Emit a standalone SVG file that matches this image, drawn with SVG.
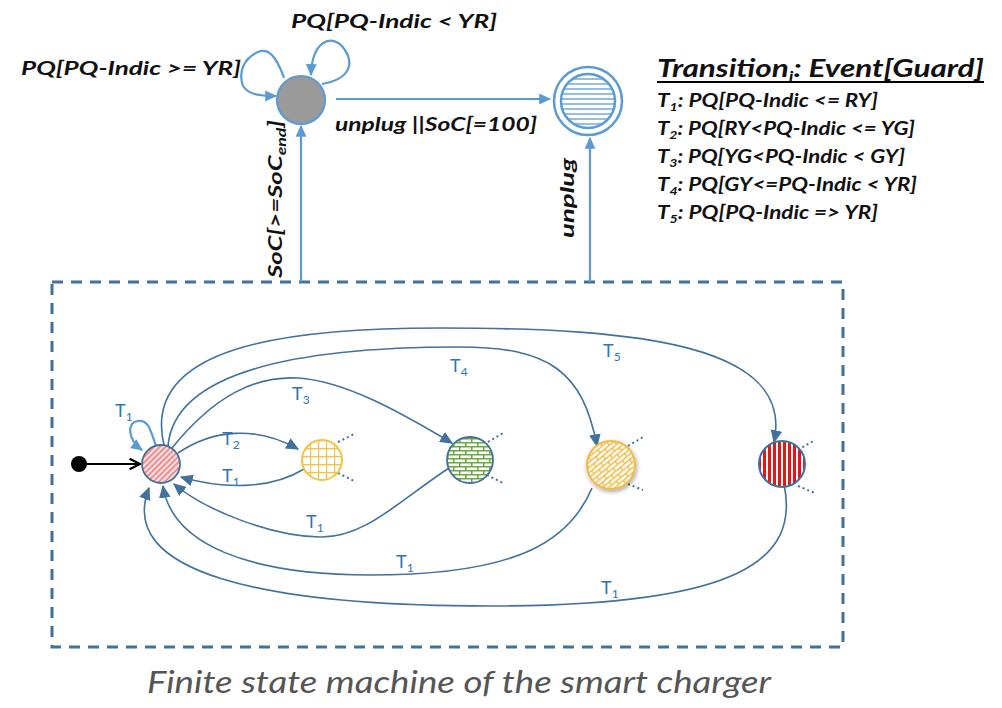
<svg xmlns="http://www.w3.org/2000/svg" width="1002" height="708" viewBox="0 0 1002 708">
<style>
.lbl{font-family:Lato,"Liberation Sans",sans-serif;font-weight:bold;font-style:italic;fill:#111;}
.t{font-family:Lato,"Open Sans","Liberation Sans",sans-serif;fill:#2e75b6;font-size:18px;}
.c{fill:none;stroke:#41719c;stroke-width:1.6;}
.top{fill:none;stroke:#5b9bd5;stroke-width:2.2;}
.dot{fill:none;stroke:#41719c;stroke-width:2;stroke-dasharray:2 3;}
</style>
<defs>
<marker id="ab" viewBox="0 0 10 10" refX="9" refY="5" markerWidth="13" markerHeight="13" markerUnits="userSpaceOnUse" orient="auto"><path d="M0,0.5 L10,5 L0,9.5 z" fill="#41719c"/></marker>
<marker id="al" viewBox="0 0 10 10" refX="9" refY="5" markerWidth="12" markerHeight="12" markerUnits="userSpaceOnUse" orient="auto"><path d="M0,0.5 L10,5 L0,9.5 z" fill="#5b9bd5"/></marker>
<marker id="ak" viewBox="0 0 10 10" refX="9" refY="5" markerWidth="13" markerHeight="13" markerUnits="userSpaceOnUse" orient="auto"><path d="M1,1 L9,5 L1,9" fill="none" stroke="#000" stroke-width="1.8"/></marker>
<pattern id="phatch" width="4" height="4" patternUnits="userSpaceOnUse" patternTransform="rotate(45)"><rect width="4" height="4" fill="#fbe2e2"/><line x1="1" y1="0" x2="1" y2="4" stroke="#e23a3a" stroke-width="1"/></pattern>
<pattern id="pgrid" width="8" height="8" patternUnits="userSpaceOnUse" x="302" y="440"><rect width="8" height="8" fill="#fff"/><path d="M0,0.5 H8 M0.5,0 V8" stroke="#f5c242" stroke-width="1.3"/></pattern>
<pattern id="pbrick" width="12" height="8" patternUnits="userSpaceOnUse" x="447" y="438"><rect width="12" height="8" fill="#fff"/><path d="M0,0.75 H12 M0,4.75 H12 M0.75,0 V4 M6.75,4 V8" stroke="#6aaa3e" stroke-width="1.6"/></pattern>
<pattern id="pgold" width="12" height="8" patternUnits="userSpaceOnUse" patternTransform="rotate(-40)"><rect width="12" height="8" fill="#fff"/><path d="M0,0.75 H12 M0,4.75 H12 M0.75,0 V4 M6.75,4 V8" stroke="#f1bb48" stroke-width="1.4"/></pattern>
<pattern id="pstripe" width="5" height="5" patternUnits="userSpaceOnUse" x="758"><rect width="5" height="5" fill="#e01818"/><rect x="3" width="2" height="5" fill="#fff"/></pattern>
<pattern id="phor" width="5" height="5" patternUnits="userSpaceOnUse" y="68"><rect width="5" height="5" fill="#fff"/><line x1="0" y1="1" x2="5" y2="1" stroke="#5b9bd5" stroke-width="1.3"/></pattern>
<filter id="sh" x="-40%" y="-40%" width="180%" height="180%"><feDropShadow dx="1" dy="2" stdDeviation="2" flood-color="#000" flood-opacity="0.35"/></filter>
</defs>
<rect width="1002" height="708" fill="#fff"/>

<g id="boundary">
<rect x="52" y="282" width="791" height="365" fill="none" stroke="#41719c" stroke-width="3" stroke-dasharray="11 8"/>
</g>

<g id="connectors">
<path class="top" d="M284,78 C276,55 268,48 258,52 C244,58 238,72 243,86 C248,94 258,96 276,96" marker-end="url(#al)"/>
<path class="top" d="M322,84 C346,80 358,66 342,46 C330,34 312,42 311,75" marker-end="url(#al)"/>
<line class="top" x1="336" y1="99" x2="550" y2="99" marker-end="url(#al)"/>
<line class="top" x1="301" y1="282" x2="301" y2="126" marker-end="url(#al)"/>
<line class="top" x1="590" y1="282" x2="590" y2="138" marker-end="url(#al)"/>
<line x1="87" y1="464" x2="140" y2="464" stroke="#000" stroke-width="1.8" marker-end="url(#ak)"/>
<path d="M156,446 C150,428 148,420 138,421 C126,422 128,440 142,450" fill="none" stroke="#5b9bd5" stroke-width="2.2" marker-end="url(#al)"/>
<path class="c" d="M178,453 C212,430 255,425 298,449" marker-end="url(#ab)"/>
<path class="c" d="M304,469 C270,490 222,489 181,477" marker-end="url(#ab)"/>
<path class="c" d="M172,448 C215,395 255,376 298,378 C345,381 400,412 452,443" marker-end="url(#ab)"/>
<path class="c" d="M168,446 C175,365 320,347 460,347 C550,347 583,372 597,446" marker-end="url(#ab)"/>
<path class="c" d="M164,445 C140,345 290,328 440,328 C640,328 795,345 774,442" marker-end="url(#ab)"/>
<path class="c" d="M449,468 C400,500 365,538 320,537 C270,536 205,510 174,484" marker-end="url(#ab)"/>
<path class="c" d="M592,488 C570,540 520,575 370,575 C250,575 172,545 163,486" marker-end="url(#ab)"/>
<path class="c" d="M784,484 C800,560 740,606 490,606 C260,606 116,572 149,488" marker-end="url(#ab)"/>
<path class="dot" d="M338,442 L356,433 M338,473 L356,482"/>
<path class="dot" d="M488,442 L503,433 M487,475 L503,483"/>
<path class="dot" d="M628,446 L643,437 M628,484 L643,490"/>
<path class="dot" d="M798,450 L815,440 M798,486 L815,493"/>
</g>

<g id="charging">
<circle cx="301" cy="100" r="24" fill="#9a9a9a" stroke="#5b9bd5" stroke-width="2.2"/>
</g>
<g id="final">
<circle cx="588" cy="101" r="34" fill="none" stroke="#5b9bd5" stroke-width="2.5"/>
<circle cx="588" cy="101" r="27" fill="url(#phor)" stroke="#5b9bd5" stroke-width="2.5"/>
</g>
<g id="initial"><circle cx="79" cy="464" r="8" fill="#000"/></g>
<g id="red"><circle cx="161" cy="464" r="19" fill="url(#phatch)" stroke="#41719c" stroke-width="1.8"/></g>
<g id="yellow"><circle cx="322" cy="460" r="20" fill="url(#pgrid)" stroke="#f5c242" stroke-width="2"/></g>
<g id="green"><circle cx="470" cy="460" r="23" fill="url(#pbrick)" stroke="#41719c" stroke-width="1.8"/></g>
<g id="gold"><circle cx="611" cy="465" r="24" fill="url(#pgold)" stroke="#f1bb48" stroke-width="2" filter="url(#sh)"/></g>
<g id="stripes"><circle cx="782" cy="464" r="23" fill="url(#pstripe)" stroke="#41719c" stroke-width="2"/></g>

<g id="labels-top">
<text class="lbl" x="21" y="75" font-size="19" textLength="220" lengthAdjust="spacingAndGlyphs">PQ[PQ-Indic &gt;= YR]</text>
<text class="lbl" x="291" y="28" font-size="19" textLength="206" lengthAdjust="spacingAndGlyphs">PQ[PQ-Indic &lt; YR]</text>
<text class="lbl" x="335" y="131" font-size="19" textLength="202" lengthAdjust="spacingAndGlyphs">unplug  ||SoC[=100]</text>
<text class="lbl" font-size="19" transform="translate(282,278) rotate(-90)" textLength="158" lengthAdjust="spacingAndGlyphs">SoC[&gt;=SoC<tspan font-size="13" dy="4">end</tspan><tspan dy="-4">]</tspan></text>
<text class="lbl" font-size="19" transform="translate(574,238) rotate(-90)" textLength="80" lengthAdjust="spacingAndGlyphs">unplug</text>
</g>

<g id="legend">
<text class="lbl" x="657" y="77" font-size="25" textLength="327" lengthAdjust="spacingAndGlyphs">Transition<tspan font-size="15" dy="5">i</tspan><tspan dy="-5">:  Event[Guard]</tspan></text>
<line x1="657" y1="82" x2="984" y2="82" stroke="#000" stroke-width="2"/>
<text class="lbl" x="657" y="107" font-size="19" textLength="221" lengthAdjust="spacingAndGlyphs">T<tspan font-size="12" dy="4">1</tspan><tspan dy="-4">: PQ[PQ-Indic &lt;= RY]</tspan></text>
<text class="lbl" x="657" y="135" font-size="19" textLength="258" lengthAdjust="spacingAndGlyphs">T<tspan font-size="12" dy="4">2</tspan><tspan dy="-4">: PQ[RY&lt;PQ-Indic &lt;= YG]</tspan></text>
<text class="lbl" x="657" y="163" font-size="19" textLength="248" lengthAdjust="spacingAndGlyphs">T<tspan font-size="12" dy="4">3</tspan><tspan dy="-4">: PQ[YG&lt;PQ-Indic &lt; GY]</tspan></text>
<text class="lbl" x="657" y="191" font-size="19" textLength="260" lengthAdjust="spacingAndGlyphs">T<tspan font-size="12" dy="4">4</tspan><tspan dy="-4">: PQ[GY&lt;=PQ-Indic &lt; YR]</tspan></text>
<text class="lbl" x="657" y="219" font-size="19" textLength="221" lengthAdjust="spacingAndGlyphs">T<tspan font-size="12" dy="4">5</tspan><tspan dy="-4">: PQ[PQ-Indic =&gt; YR]</tspan></text>
</g>

<g id="labels-inner">
<text class="t" x="115" y="417">T<tspan font-size="12" dy="4">1</tspan></text>
<text class="t" x="222" y="445">T<tspan font-size="12" dy="4">2</tspan></text>
<text class="t" x="222" y="482">T<tspan font-size="12" dy="4">1</tspan></text>
<text class="t" x="292" y="400">T<tspan font-size="12" dy="4">3</tspan></text>
<text class="t" x="450" y="372">T<tspan font-size="12" dy="4">4</tspan></text>
<text class="t" x="603" y="357">T<tspan font-size="12" dy="4">5</tspan></text>
<text class="t" x="306" y="528">T<tspan font-size="12" dy="4">1</tspan></text>
<text class="t" x="396" y="568">T<tspan font-size="12" dy="4">1</tspan></text>
<text class="t" x="601" y="594">T<tspan font-size="12" dy="4">1</tspan></text>
</g>

<g id="caption">
<text x="147" y="693" font-family="Lato,'Open Sans',sans-serif" font-style="italic" font-size="31" fill="#555" textLength="624" lengthAdjust="spacingAndGlyphs">Finite state machine of the smart charger</text>
</g>
</svg>
